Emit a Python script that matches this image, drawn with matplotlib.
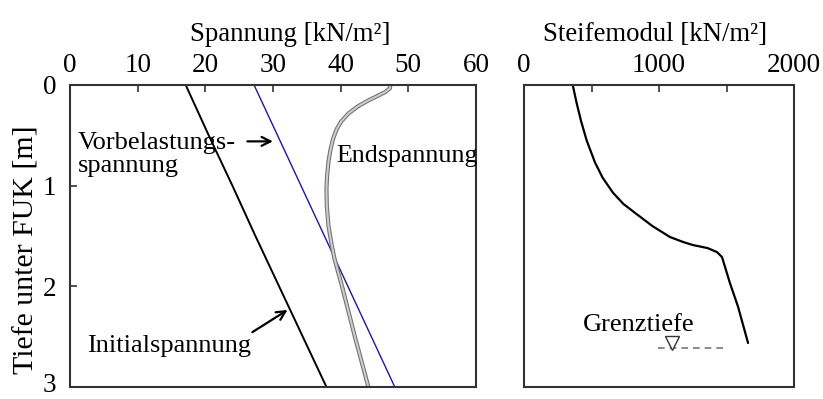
import matplotlib
matplotlib.use("Agg")
import matplotlib.pyplot as plt
import matplotlib.patheffects as pe
import matplotlib.transforms as mtransforms

plt.rcParams['font.family'] = ['Liberation Serif', 'DejaVu Serif']
plt.rcParams['font.size'] = 19

# --- data (depth in m, stress in kN/m2) ---
init_depth = [0.0, 0.5, 1.0, 1.5, 2.0, 2.5, 3.0]
init_stress = [17.1, 20.5, 24.0, 27.4, 30.9, 34.4, 37.9]

pre_depth = [0.0, 3.0]
pre_stress = [27.2, 48.0]

end_depth = [0.0, 0.03, 0.07, 0.11, 0.16, 0.21, 0.28, 0.36, 0.44, 0.53, 0.64, 0.76, 0.9,
             1.03, 1.2, 1.4, 1.6, 1.73, 2.0, 2.5, 3.0]
end_stress = [47.3, 47.3, 46.6, 45.4, 43.9, 42.6, 41.2, 40.1, 39.4, 38.9, 38.5, 38.2, 38.0,
              37.9, 37.95, 38.2, 38.7, 39.1, 40.2, 42.1, 44.1]

mod_depth = [0.0, 0.18, 0.36, 0.55, 0.77, 0.92, 1.07, 1.18, 1.27, 1.40, 1.51, 1.56, 1.59,
             1.62, 1.66, 1.71, 1.97, 2.20, 2.56]
mod_value = [361, 390, 423, 464, 526, 582, 659, 735, 822, 950, 1081, 1180, 1252,
             1360, 1430, 1467, 1526, 1585, 1659]

grenz_depth = 2.61
grenz_x = [993, 1474]
grenz_marker_x = 1093

stress_ticks = [0, 10, 20, 30, 40, 50, 60]
depth_ticks = [0, 1, 2, 3]
mod_ticks = [0, 500, 1000, 1500, 2000]
mod_ticklabels = ['0', '', '1000', '', '2000']

fig = plt.figure(figsize=(8.23, 3.99), dpi=100)
ax1 = fig.add_axes([70/823, 12/399, 406/823, 302/399])
ax2 = fig.add_axes([524/823, 12/399, 270/823, 302/399])

spine_col = '#333333'
for ax in (ax1, ax2):
    for s in ax.spines.values():
        s.set_color(spine_col)
        s.set_linewidth(1.5)
    ax.xaxis.tick_top()
    ax.xaxis.set_label_position('top')
    ax.tick_params(direction='in', length=5, width=1.2, color=spine_col,
                   labelsize=19.5, pad=5)

# left panel
ax1.plot(init_stress, init_depth, color='black', lw=1.4)
ax1.plot(pre_stress, pre_depth, color='#1a1aa0', lw=1.0)
ax1.plot(end_stress, end_depth, color='#cccccc', lw=1.5,
         path_effects=[pe.Stroke(linewidth=3.0, foreground='#707070'), pe.Normal()])
ax1.set_xlim(0, 60)
ax1.set_ylim(3, 0)
ax1.set_xticks(stress_ticks)
ax1.set_yticks(depth_ticks)
ax1.tick_params(axis='y', pad=10)
ax1.set_xlabel('Spannung [kN/m²]', fontsize=19.3, labelpad=9)
ax1.xaxis.label.set_x((290 - 70) / 406)
ax1.set_ylabel('Tiefe unter FUK [m]', fontsize=21.5, labelpad=2)
ax1.yaxis.label.set_y(1 - (250 - 85) / 302)

# lift the bottom y tick label slightly so it is not clipped
fig.canvas.draw()
ylabels = ax1.get_yticklabels()
shift = mtransforms.ScaledTranslation(0, 3 / 72, fig.dpi_scale_trans)
ylabels[-1].set_transform(ylabels[-1].get_transform() + shift)

ax1.text(1.2, 0.69, 'Vorbelastungs-\nspannung', ha='left', va='center', fontsize=19,
         linespacing=1.1)
ax1.annotate('', xy=(30.4, 0.56), xytext=(25.8, 0.56),
             arrowprops=dict(arrowstyle='->', color='black', lw=1.6, mutation_scale=16))
ax1.text(39.3, 0.71, 'Endspannung', ha='left', va='center', fontsize=18.7)
ax1.text(2.5, 2.59, 'Initialspannung', ha='left', va='center', fontsize=19)
ax1.annotate('', xy=(32.5, 2.22), xytext=(26.6, 2.47),
             arrowprops=dict(arrowstyle='->', color='black', lw=1.6, mutation_scale=16))

# right panel
ax2.plot(mod_value, mod_depth, color='black', lw=1.6)
ax2.plot(grenz_x, [grenz_depth, grenz_depth], color='#777777', lw=1.2, ls=(0, (4, 3)))
ax2.plot([grenz_marker_x], [grenz_depth - 0.05], marker='v', markersize=10,
         markerfacecolor='white', markeredgecolor='#333333', markeredgewidth=1.0)
ax2.text(848, 2.38, 'Grenztiefe', ha='center', va='center', fontsize=19)
ax2.set_xlim(0, 2000)
ax2.set_ylim(3, 0)
ax2.set_xticks(mod_ticks)
ax2.set_xticklabels(mod_ticklabels)
ax2.set_yticks([])
ax2.set_xlabel('Steifemodul [kN/m²]', fontsize=19.3, labelpad=9)
ax2.xaxis.label.set_x((655 - 524) / 270)

fig.savefig('out.png', dpi=100)
